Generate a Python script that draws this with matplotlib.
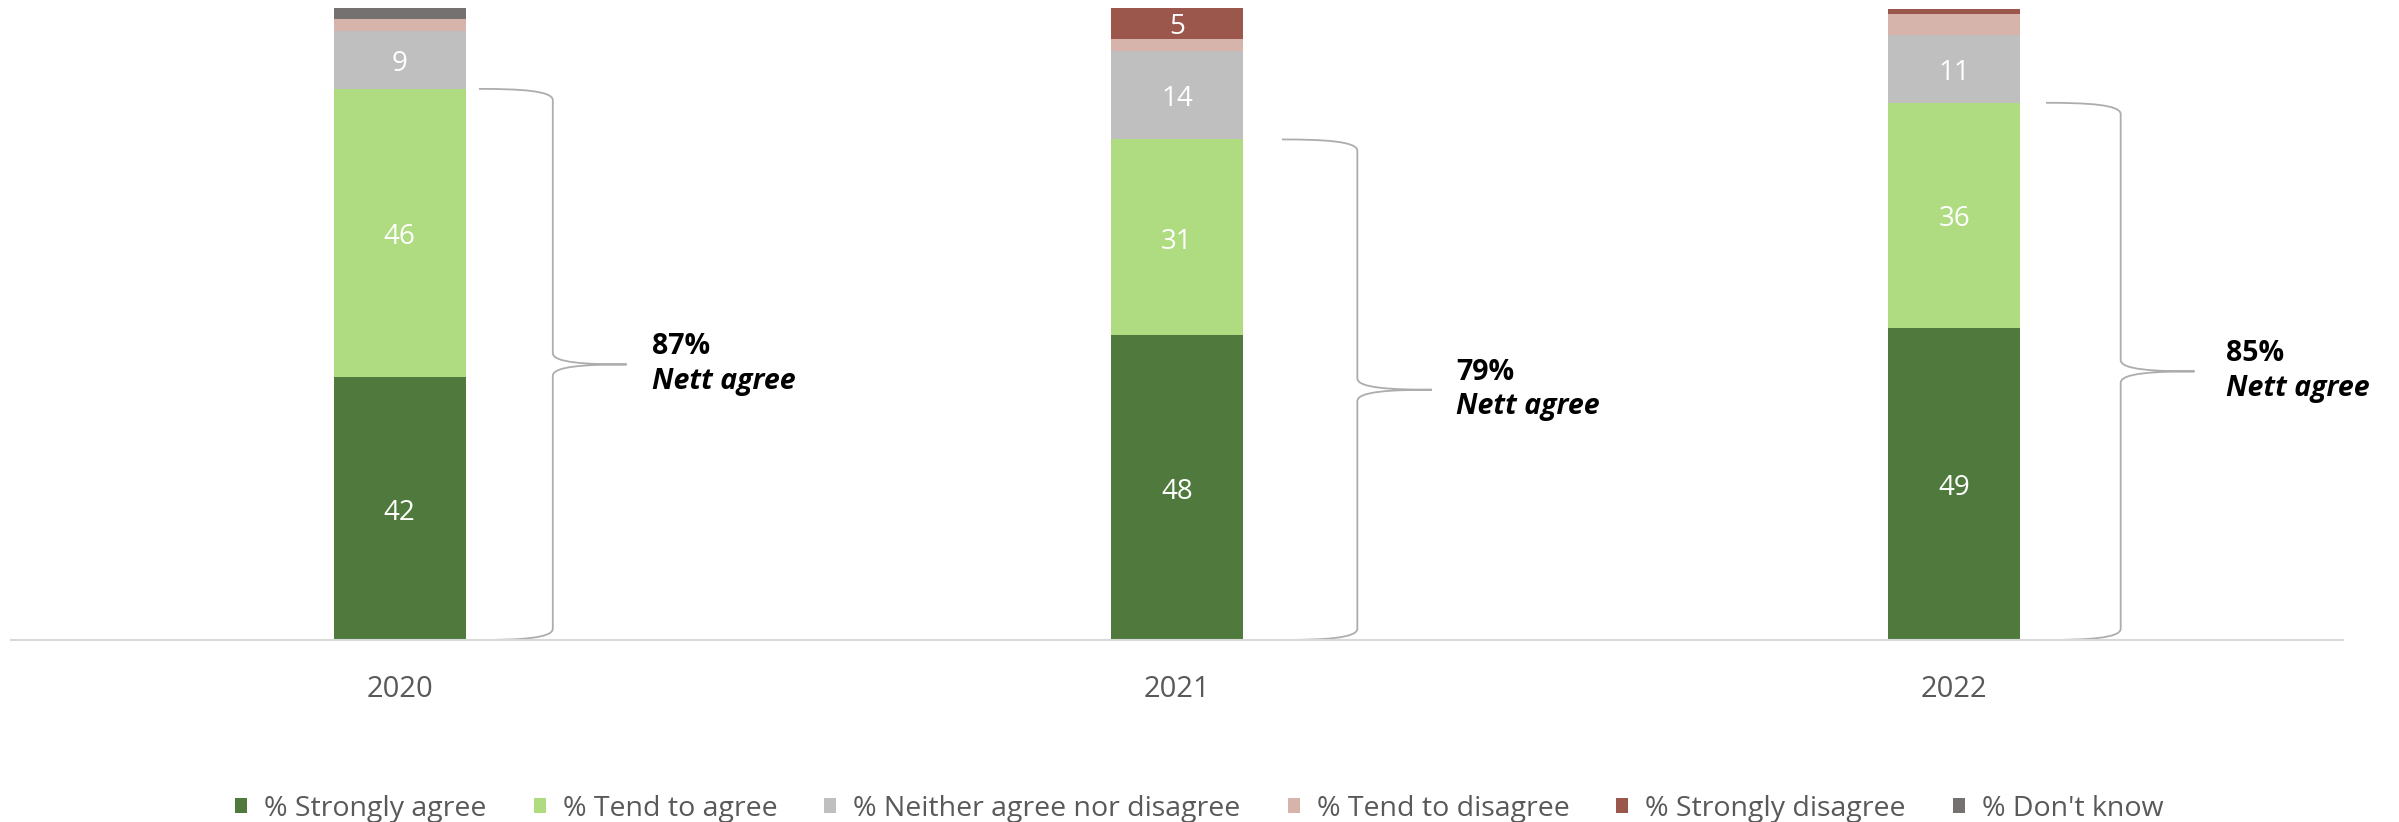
import matplotlib
matplotlib.use("Agg")
import matplotlib.pyplot as plt
from matplotlib.patches import Patch, PathPatch
from matplotlib.path import Path

plt.rcParams["font.family"] = ["Open Sans", "DejaVu Sans"]

# ---- data -------------------------------------------------------------
years = ["2020", "2021", "2022"]
strongly_agree = [41.6, 48.2, 49.4]
tend_agree = [45.6, 31.0, 35.6]
neither = [9.2, 14.0, 10.8]
tend_disagree = [1.9, 1.9, 3.2]
strongly_disagree = [0.0, 5.0, 0.9]
dont_know = [1.9, 0.0, 0.0]

series_labels = ["% Strongly agree", "% Tend to agree",
                 "% Neither agree nor disagree", "% Tend to disagree",
                 "% Strongly disagree", "% Don't know"]
series_colors = ["#507A3D", "#AFDC80", "#BFBFBF", "#D6B3AB", "#9C574D", "#767171"]
series_values = [strongly_agree, tend_agree, neither, tend_disagree,
                 strongly_disagree, dont_know]

# brace geometry per year, in category units relative to the bar centre:
# (start of brace, vertical stroke, tip, annotation text)
brace_offsets = [(0.102, 0.197, 0.292, 0.325),
                 (0.135, 0.232, 0.328, 0.359),
                 (0.118, 0.214, 0.309, 0.349)]

# ---- figure -----------------------------------------------------------
W, H = 2399, 822
fig = plt.figure(figsize=(W / 100, H / 100), dpi=100)
ax = fig.add_axes([11 / W, (H - 640) / H, 2332 / W, 632 / H])

x = list(range(len(years)))
bar_width = 0.17
bottoms = [0.0] * len(years)
for vals, color in zip(series_values, series_colors):
    ax.bar(x, vals, width=bar_width, bottom=bottoms, color=color,
           linewidth=0, zorder=2)
    for i, v in enumerate(vals):
        if v >= 4.5:
            ax.text(x[i], bottoms[i] + v / 2 - 0.65, f"{v:.0f}", ha="center",
                    va="center", color="white", fontsize=20, zorder=3)
    bottoms = [b + v for b, v in zip(bottoms, vals)]

ax.set_xlim(-0.5, 2.5)
ax.set_ylim(0, 100)
ax.set_xticks(x)
ax.set_xticklabels(years)
ax.tick_params(axis="x", length=0, pad=25, labelsize=21, labelcolor="#595959")
ax.set_yticks([])
for side in ("left", "right", "top"):
    ax.spines[side].set_visible(False)
ax.spines["bottom"].set_color("#D9D9D9")
ax.spines["bottom"].set_linewidth(1.5)


def right_brace(axis, x0, xv, xt, y0, y1, r=1.8):
    """Curly brace '}' from y0 to y1, opening at x0 and pointing to xt."""
    ym = (y0 + y1) / 2
    hx = xv - x0
    tx = xt - xv
    verts = [
        (x0, y1),
        (x0 + 0.55 * hx, y1), (xv, y1 - 0.15 * r), (xv, y1 - r),
        (xv, ym + r),
        (xv, ym + 0.15 * r), (xv + 0.45 * tx, ym), (xt, ym),
        (xv + 0.45 * tx, ym), (xv, ym - 0.15 * r), (xv, ym - r),
        (xv, y0 + r),
        (xv, y0 + 0.15 * r), (x0 + 0.55 * hx, y0), (x0, y0),
    ]
    codes = ([Path.MOVETO] + [Path.CURVE4] * 3 + [Path.LINETO]
             + [Path.CURVE4] * 6 + [Path.LINETO] + [Path.CURVE4] * 3)
    axis.add_patch(PathPatch(Path(verts, codes), facecolor="none",
                             edgecolor="#ADADAD", linewidth=1.3,
                             zorder=2, clip_on=False))


for i, (s, v, t, lx) in enumerate(brace_offsets):
    nett = strongly_agree[i] + tend_agree[i]
    right_brace(ax, x[i] + s, x[i] + v, x[i] + t, 0, nett)
    mid = nett / 2
    ax.text(x[i] + lx, mid + 1.6, f"{nett:.0f}%", ha="left", va="baseline",
            fontsize=20.5, fontweight="bold", color="black")
    ax.text(x[i] + lx, mid - 3.9, "Nett agree", ha="left", va="baseline",
            fontsize=20.5, fontweight="bold", fontstyle="italic", color="black")

handles = [Patch(facecolor=c, edgecolor="none", label=l)
           for c, l in zip(series_colors, series_labels)]
fig.legend(handles=handles, loc="center", bbox_to_anchor=(0.5, 13 / H),
           ncol=6, frameon=False, fontsize=20.5, handlelength=0.42,
           handleheight=0.42, handletextpad=0.6, columnspacing=1.65,
           labelcolor="#595959", borderaxespad=0, borderpad=0)

fig.savefig("out.png", dpi=100, facecolor="white")
